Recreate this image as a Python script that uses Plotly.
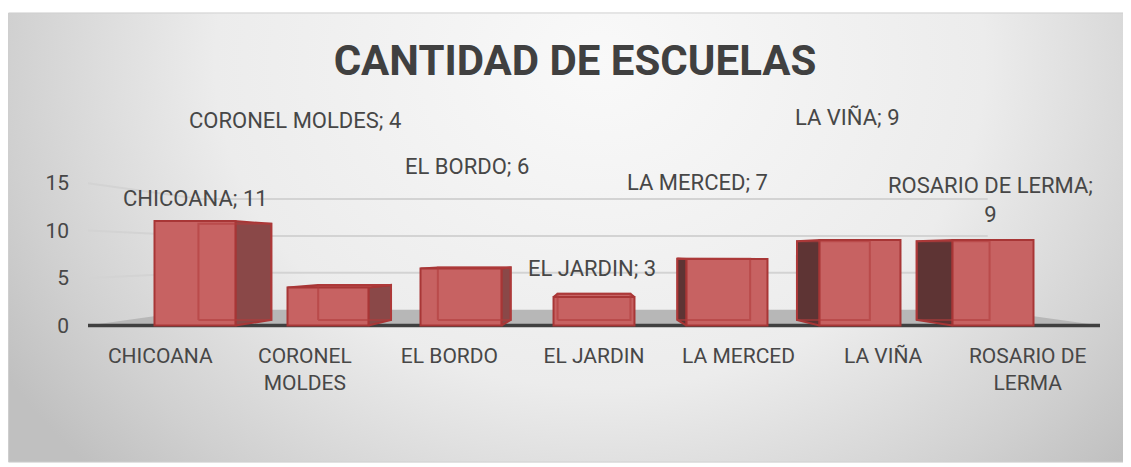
import plotly.graph_objects as go

W, H = 1131, 467

categorias = ["CHICOANA", "CORONEL MOLDES", "EL BORDO", "EL JARDIN", "LA MERCED", "LA VIÑA", "ROSARIO DE LERMA"]
escuelas = [11, 4, 6, 3, 7, 9, 9]
ticks_y = [0, 5, 10, 15]
titulo = "CANTIDAD DE ESCUELAS"

# etiquetas del eje x partidas en dos lineas como en el original
etiquetas_eje = ["CHICOANA", "CORONEL<br>MOLDES", "EL BORDO", "EL JARDIN", "LA MERCED", "LA VIÑA", "ROSARIO DE<br>LERMA"]

# desplazamiento manual de las etiquetas de datos (px), estaban movidas a mano
label_dx = [35, -10, 18, -2, -41, -36, -37]
label_dy = [23, 167, 102, 29, 77, 123, 40]

FUENTE = "Roboto, Arial, sans-serif"
GRIS_TXT = "#474747"

# el body de la pagina agrega 8px de margen, se compensa aca
OFF = 8
X_IZQ, X_DER = 88 - OFF, 1100 - OFF
Y_CERO, PX_UNIDAD = 327 - OFF, 9.6
Y_MIN, Y_MAX = -1, 16
BORDE_SUP = 11 - OFF
BORDE_INF = 465 - OFF

N = len(categorias)
CX, CY = (N - 1) / 2, 7.5  # punto de fuga de la falsa perspectiva


def persp(x, y, sx, sy):
    return CX + sx * (x - CX), CY + sy * (y - CY)


# caras de las columnas
ancho = 0.56
centros = [CX + 0.92 * (i - CX) for i in range(N)]
atras_x, atras_y = [], []
lado_d_x, lado_d_y = [], []
lado_i_x, lado_i_y = [], []
techo_x, techo_y = [], []
for i, v in enumerate(escuelas):
    x0, x1 = centros[i] - ancho / 2, centros[i] + ancho / 2
    bx0, by0 = persp(x0, 0, 0.9, 0.92)
    bx1, by1 = persp(x1, v, 0.9, 0.92)
    # aristas traseras que se ven a traves de la cara frontal
    atras_x += [bx0, bx1, bx1, bx0, bx0, None]
    atras_y += [by0, by0, by1, by1, by0, None]
    if bx1 > x1 + 1e-6:
        lado_d_x += [x1, x1, bx1, bx1, x1, None]
        lado_d_y += [0, v, by1, by0, 0, None]
    if bx0 < x0 - 1e-6:
        lado_i_x += [x0, x0, bx0, bx0, x0, None]
        lado_i_y += [0, v, by1, by0, 0, None]
    if by1 > v:
        techo_x += [x0, x1, bx1, bx0, x0, None]
        techo_y += [v, v, by1, by1, v, None]

# piso y lineas de division sobre las paredes
S_PARED = 0.778
pf_izq = persp(-0.5, 0, S_PARED, S_PARED)
pf_der = persp(N - 0.5, 0, S_PARED, S_PARED)
piso_x = [-0.5, N - 0.5, pf_der[0], pf_izq[0], -0.5]
piso_y = [0, 0, pf_der[1], pf_izq[1], 0]

grilla_x, grilla_y = [], []
for t in ticks_y[1:]:
    a = persp(-0.5, t, S_PARED, S_PARED)
    b = persp(N - 0.5, t, S_PARED, S_PARED)
    grilla_x += [-0.5, a[0], b[0], None]
    grilla_y += [t, a[1], a[1], None]

fig = go.Figure()

# fondo con degradado radial
cx_f, cy_f = 600 - OFF, 60 - OFF
fig.add_trace(go.Scatter(
    x=[cx_f - 700, cx_f + 700, cx_f + 700, cx_f - 700, cx_f - 700],
    y=[cy_f - 600, cy_f - 600, cy_f + 600, cy_f + 600, cy_f - 600],
    fill="toself", mode="none", hoverinfo="skip",
    fillgradient=dict(type="radial",
                      colorscale=[[0, "#f9f9f9"], [0.55, "#ececec"], [0.85, "#d0d0d0"], [1, "#c0c0c0"]]),
    xaxis="x", yaxis="y"))

fig.add_trace(go.Scatter(x=grilla_x, y=grilla_y, mode="lines", line=dict(color="#d3d3d3", width=2),
                         hoverinfo="skip", xaxis="x2", yaxis="y2"))
fig.add_trace(go.Scatter(x=piso_x, y=piso_y, fill="toself", fillcolor="#b7b7b7", mode="none",
                         hoverinfo="skip", xaxis="x2", yaxis="y2"))
fig.add_trace(go.Scatter(x=[-0.5, N - 0.5], y=[0, 0], mode="lines", line=dict(color="#404040", width=3.5),
                         hoverinfo="skip", xaxis="x2", yaxis="y2"))

borde = "#a83636"
for xs, ys, color in [(lado_d_x, lado_d_y, "#8a4848"), (lado_i_x, lado_i_y, "#5e3434"),
                      (techo_x, techo_y, "#c86565")]:
    if xs:
        fig.add_trace(go.Scatter(x=xs, y=ys, fill="toself", fillcolor=color, mode="lines",
                                 line=dict(color=borde, width=2), hoverinfo="skip",
                                 xaxis="x2", yaxis="y2"))

# cara frontal (barras reales)
fig.add_trace(go.Bar(
    x=list(range(N)), y=escuelas, base=0, width=ancho,
    offset=[centros[i] - i - ancho / 2 for i in range(N)],
    marker=dict(color="#c76262", line=dict(color=borde, width=2)),
    hovertext=categorias, xaxis="x3", yaxis="y3"))
fig.add_trace(go.Scatter(x=atras_x, y=atras_y, mode="lines", line=dict(color="rgba(176,60,60,0.6)", width=2),
                         hoverinfo="skip", xaxis="x3", yaxis="y3"))

textos = [f"{c}; {v}" for c, v in zip(categorias, escuelas)]
textos[-1] = textos[-1].replace("; ", ";<br>")
for i, v in enumerate(escuelas):
    fig.add_annotation(x=i, y=v, xref="x2", yref="y2", text=textos[i], showarrow=False,
                       xshift=label_dx[i], yshift=label_dy[i], align="center",
                       font=dict(family=FUENTE, size=22, color=GRIS_TXT))

dom_x = [X_IZQ / W, X_DER / W]
y_bot = Y_CERO - Y_MIN * PX_UNIDAD
y_top = Y_CERO - Y_MAX * PX_UNIDAD
dom_y = [(H - y_bot) / H, (H - y_top) / H]

fig.update_layout(
    width=W, height=H,
    margin=dict(l=0, r=0, t=0, b=0),
    paper_bgcolor="white", plot_bgcolor="rgba(0,0,0,0)",
    showlegend=False,
    title=dict(text=titulo, x=(575 - OFF) / W, y=1 - (60 - OFF) / H, xanchor="center", yanchor="middle",
               font=dict(family=FUENTE, size=42, color="#404040", weight="bold")),
    xaxis=dict(domain=[0, 1], range=[0, W], visible=False, fixedrange=True),
    yaxis=dict(domain=[(H - BORDE_INF) / H, (H - BORDE_SUP) / H], range=[BORDE_INF, BORDE_SUP],
               visible=False, fixedrange=True),
    xaxis2=dict(domain=dom_x, range=[-0.5, N - 0.5], anchor="y2", tickvals=list(range(N)),
                ticktext=etiquetas_eje, showgrid=False, zeroline=False, showline=False,
                ticklabelstandoff=6, tickfont=dict(family=FUENTE, size=21, color=GRIS_TXT)),
    yaxis2=dict(domain=dom_y, range=[Y_MIN, Y_MAX], anchor="x2", tickvals=ticks_y,
                showgrid=False, zeroline=False, showline=False, ticklabelstandoff=18,
                tickfont=dict(family=FUENTE, size=21, color=GRIS_TXT)),
    xaxis3=dict(overlaying="x2", matches="x2", visible=False),
    yaxis3=dict(overlaying="y2", matches="y2", visible=False),
    shapes=[dict(type="rect", xref="paper", yref="paper", x0=0.0005, x1=1.01, y0=(H - BORDE_INF) / H,
                 y1=(H - BORDE_SUP) / H, line=dict(color="#cfcfcf", width=1))],
)

fig.write_html("out.html")
